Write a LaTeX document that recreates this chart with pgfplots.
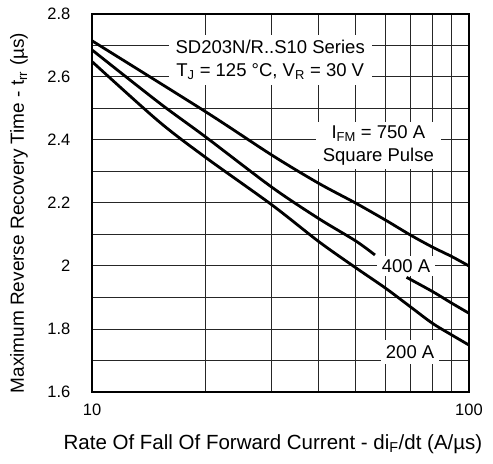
\documentclass[border=0pt]{standalone}
\usepackage{fontspec}
\setmainfont{Liberation Sans}
\usepackage{pgfplots}
\pgfplotsset{compat=1.18}
\begin{document}
\fontsize{16.5bp}{19bp}\selectfont
\begin{tikzpicture}
\begin{axis}[
 scale only axis, width=377bp, height=378bp,
 at={(0,0)}, anchor=south west,
 xmode=log, log basis x=10,
 xmin=10, xmax=100, ymin=1.6, ymax=2.8,
 xtick={10,100}, xticklabels={10,100},
 minor xtick={20,30,40,50,60,70,80,90},
 ytick={1.6,1.8,2.0,2.2,2.4,2.6,2.8},
 yticklabels={1.6,1.8,2,2.2,2.4,2.6,2.8},
 minor ytick={1.7,1.9,2.1,2.3,2.5,2.7},
 grid=both,
 major grid style={black!85, line width=1bp},
 minor grid style={black!85, line width=1bp},
 major tick length=0pt, minor tick length=0pt,
 axis line style={line width=1.5bp},
 /pgf/number format/assume math mode=true,
 ticklabel style={font=\fontsize{16.5bp}{19bp}\selectfont},
 yticklabel style={anchor=east, xshift=-16bp},
 xticklabel style={anchor=north, yshift=-6bp},
 xlabel={Rate Of Fall Of Forward Current - di\textsubscript{F}/dt (A/µs)},
 ylabel={Maximum Reverse Recovery Time - t\textsubscript{rr} (µs)},
 xlabel style={font=\fontsize{20.5bp}{23bp}\selectfont, at={(axis description cs:0.480,-0.137)}, anchor=center},
 ylabel style={font=\fontsize{19bp}{22bp}\selectfont, at={(axis description cs:-0.1936,0.4735)}, anchor=center},
 clip=true,
]
\node[fill=white, inner xsep=7bp, inner ysep=5bp, align=center, font=\fontsize{18.5bp}{22.7bp}\selectfont] at (axis cs:29.7,2.654) {SD203N/R..S10 Series\\T\textsubscript{J} = 125 °C, V\textsubscript{R} = 30 V};
\node[fill=white, inner xsep=7bp, inner ysep=4bp, align=center, font=\fontsize{18.5bp}{22.7bp}\selectfont] at (axis cs:57.5,2.383) {I\textsubscript{FM} = 750 A\\Square Pulse};
\node[fill=white, inner xsep=5bp, inner ysep=3bp, font=\fontsize{18.5bp}{20bp}\selectfont] at (axis cs:68.1,2.0) {400 A};
\node[fill=white, inner xsep=5bp, inner ysep=5bp, font=\fontsize{18.5bp}{20bp}\selectfont] at (axis cs:69.8,1.727) {200 A};
% 750 A
\addplot[black, line width=2.8bp, smooth] coordinates {
(10,2.715) (20,2.49) (30,2.352) (40,2.262) (50,2.20) (60,2.146) (70,2.098) (80,2.06) (90,2.03) (100,2.0)};
% 400 A (two parts, gap for label)
\addplot[black, line width=2.8bp, smooth] coordinates {
(10,2.686) (15,2.52) (20,2.41) (30,2.25) (40,2.15) (50,2.08) (56.3,2.035)};
\addplot[black, line width=2.8bp, smooth] coordinates {
(68.3,1.964) (80,1.919) (90,1.882) (100,1.85)};
% 200 A
\addplot[black, line width=2.8bp, smooth] coordinates {
(10,2.649) (15,2.46) (20,2.345) (30,2.194) (40,2.077) (50,1.995) (60,1.93) (70,1.87) (80,1.818) (90,1.781) (100,1.749)};
\end{axis}
\pgfresetboundingbox
\path[use as bounding box] (-92bp,-72bp) rectangle (401bp,392bp);
\end{tikzpicture}
\end{document}
